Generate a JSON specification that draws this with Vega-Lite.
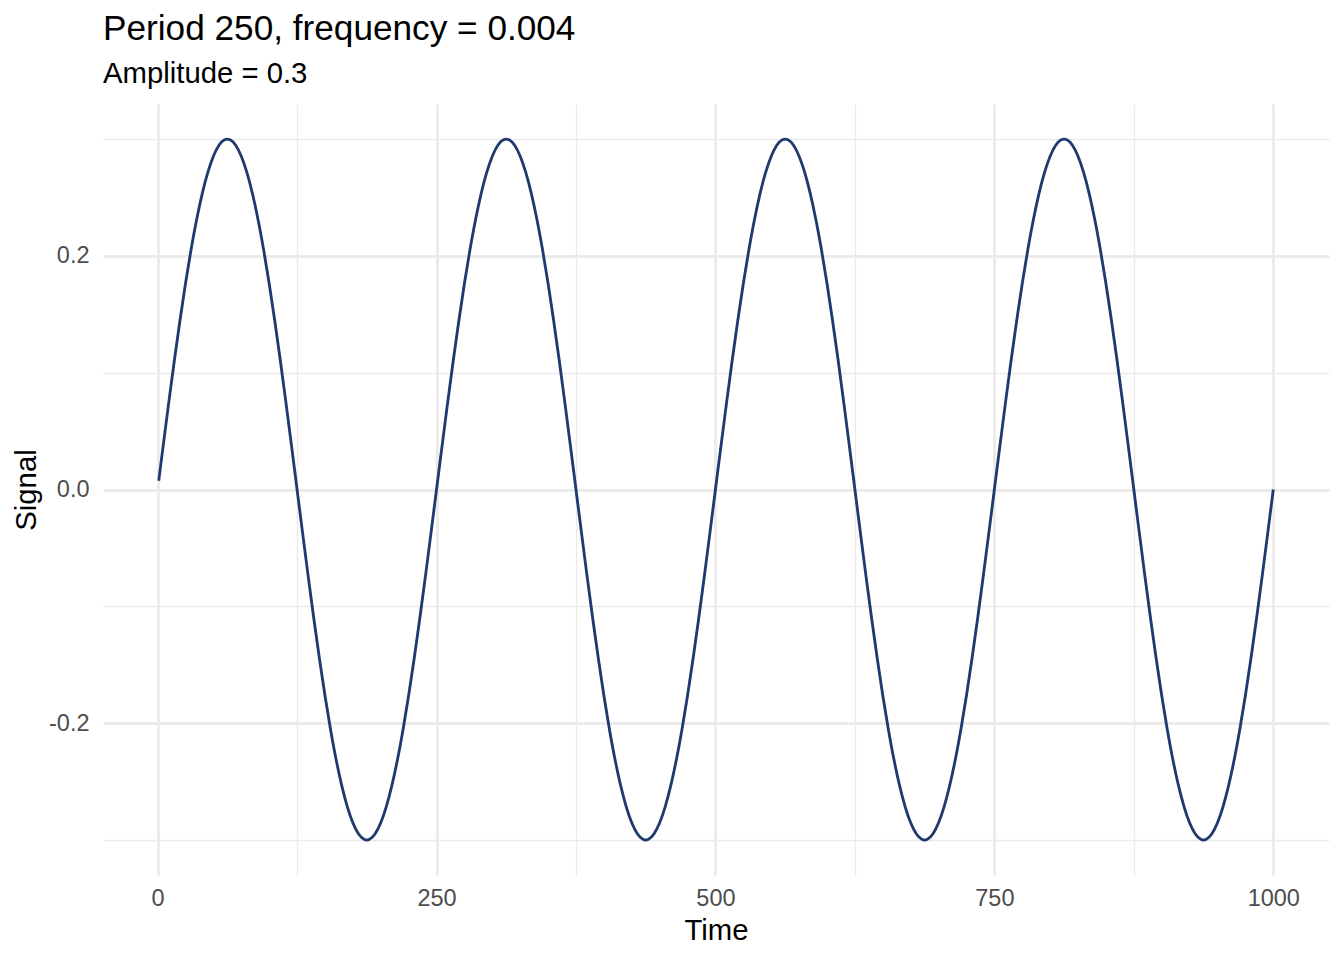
{
  "$schema": "https://vega.github.io/schema/vega-lite/v6.json",
  "width": 1226,
  "height": 771,
  "autosize": {"type": "none"},
  "padding": {"left": 103, "top": 104, "right": 15, "bottom": 85},
  "background": "white",
  "config": {"view": {"stroke": null}, "font": "Liberation Sans"},
  "title": {
    "text": "Period 250, frequency = 0.004",
    "subtitle": "Amplitude = 0.3",
    "anchor": "start",
    "frame": "group",
    "font": "Liberation Sans",
    "subtitleFont": "Liberation Sans",
    "fontSize": 35.2,
    "fontWeight": "normal",
    "color": "black",
    "subtitleFontSize": 29.3,
    "subtitleColor": "black",
    "subtitlePadding": 13,
    "offset": 15
  },
  "data": {
    "values": [
      {"t": 1, "v": 0.0075},
      {"t": 5, "v": 0.0376}, {"t": 10, "v": 0.0746}, {"t": 15, "v": 0.1104}, {"t": 20, "v": 0.1445}, {"t": 25, "v": 0.1763},
      {"t": 30, "v": 0.2054}, {"t": 35, "v": 0.2312}, {"t": 40, "v": 0.2533}, {"t": 45, "v": 0.2714}, {"t": 50, "v": 0.2853},
      {"t": 55, "v": 0.2947}, {"t": 60, "v": 0.2994}, {"t": 62.5, "v": 0.3}, {"t": 65, "v": 0.2994}, {"t": 70, "v": 0.2947}, {"t": 75, "v": 0.2853},
      {"t": 80, "v": 0.2714}, {"t": 85, "v": 0.2533}, {"t": 90, "v": 0.2312}, {"t": 95, "v": 0.2054}, {"t": 100, "v": 0.1763},
      {"t": 105, "v": 0.1445}, {"t": 110, "v": 0.1104}, {"t": 115, "v": 0.0746}, {"t": 120, "v": 0.0376}, {"t": 125, "v": 0},
      {"t": 130, "v": -0.0376}, {"t": 135, "v": -0.0746}, {"t": 140, "v": -0.1104}, {"t": 145, "v": -0.1445}, {"t": 150, "v": -0.1763},
      {"t": 155, "v": -0.2054}, {"t": 160, "v": -0.2312}, {"t": 165, "v": -0.2533}, {"t": 170, "v": -0.2714}, {"t": 175, "v": -0.2853},
      {"t": 180, "v": -0.2947}, {"t": 185, "v": -0.2994}, {"t": 187.5, "v": -0.3}, {"t": 190, "v": -0.2994}, {"t": 195, "v": -0.2947}, {"t": 200, "v": -0.2853},
      {"t": 205, "v": -0.2714}, {"t": 210, "v": -0.2533}, {"t": 215, "v": -0.2312}, {"t": 220, "v": -0.2054}, {"t": 225, "v": -0.1763},
      {"t": 230, "v": -0.1445}, {"t": 235, "v": -0.1104}, {"t": 240, "v": -0.0746}, {"t": 245, "v": -0.0376}, {"t": 250, "v": 0},

      {"t": 255, "v": 0.0376}, {"t": 260, "v": 0.0746}, {"t": 265, "v": 0.1104}, {"t": 270, "v": 0.1445}, {"t": 275, "v": 0.1763},
      {"t": 280, "v": 0.2054}, {"t": 285, "v": 0.2312}, {"t": 290, "v": 0.2533}, {"t": 295, "v": 0.2714}, {"t": 300, "v": 0.2853},
      {"t": 305, "v": 0.2947}, {"t": 310, "v": 0.2994}, {"t": 312.5, "v": 0.3}, {"t": 315, "v": 0.2994}, {"t": 320, "v": 0.2947}, {"t": 325, "v": 0.2853},
      {"t": 330, "v": 0.2714}, {"t": 335, "v": 0.2533}, {"t": 340, "v": 0.2312}, {"t": 345, "v": 0.2054}, {"t": 350, "v": 0.1763},
      {"t": 355, "v": 0.1445}, {"t": 360, "v": 0.1104}, {"t": 365, "v": 0.0746}, {"t": 370, "v": 0.0376}, {"t": 375, "v": 0},
      {"t": 380, "v": -0.0376}, {"t": 385, "v": -0.0746}, {"t": 390, "v": -0.1104}, {"t": 395, "v": -0.1445}, {"t": 400, "v": -0.1763},
      {"t": 405, "v": -0.2054}, {"t": 410, "v": -0.2312}, {"t": 415, "v": -0.2533}, {"t": 420, "v": -0.2714}, {"t": 425, "v": -0.2853},
      {"t": 430, "v": -0.2947}, {"t": 435, "v": -0.2994}, {"t": 437.5, "v": -0.3}, {"t": 440, "v": -0.2994}, {"t": 445, "v": -0.2947}, {"t": 450, "v": -0.2853},
      {"t": 455, "v": -0.2714}, {"t": 460, "v": -0.2533}, {"t": 465, "v": -0.2312}, {"t": 470, "v": -0.2054}, {"t": 475, "v": -0.1763},
      {"t": 480, "v": -0.1445}, {"t": 485, "v": -0.1104}, {"t": 490, "v": -0.0746}, {"t": 495, "v": -0.0376}, {"t": 500, "v": 0},

      {"t": 505, "v": 0.0376}, {"t": 510, "v": 0.0746}, {"t": 515, "v": 0.1104}, {"t": 520, "v": 0.1445}, {"t": 525, "v": 0.1763},
      {"t": 530, "v": 0.2054}, {"t": 535, "v": 0.2312}, {"t": 540, "v": 0.2533}, {"t": 545, "v": 0.2714}, {"t": 550, "v": 0.2853},
      {"t": 555, "v": 0.2947}, {"t": 560, "v": 0.2994}, {"t": 562.5, "v": 0.3}, {"t": 565, "v": 0.2994}, {"t": 570, "v": 0.2947}, {"t": 575, "v": 0.2853},
      {"t": 580, "v": 0.2714}, {"t": 585, "v": 0.2533}, {"t": 590, "v": 0.2312}, {"t": 595, "v": 0.2054}, {"t": 600, "v": 0.1763},
      {"t": 605, "v": 0.1445}, {"t": 610, "v": 0.1104}, {"t": 615, "v": 0.0746}, {"t": 620, "v": 0.0376}, {"t": 625, "v": 0},
      {"t": 630, "v": -0.0376}, {"t": 635, "v": -0.0746}, {"t": 640, "v": -0.1104}, {"t": 645, "v": -0.1445}, {"t": 650, "v": -0.1763},
      {"t": 655, "v": -0.2054}, {"t": 660, "v": -0.2312}, {"t": 665, "v": -0.2533}, {"t": 670, "v": -0.2714}, {"t": 675, "v": -0.2853},
      {"t": 680, "v": -0.2947}, {"t": 685, "v": -0.2994}, {"t": 687.5, "v": -0.3}, {"t": 690, "v": -0.2994}, {"t": 695, "v": -0.2947}, {"t": 700, "v": -0.2853},
      {"t": 705, "v": -0.2714}, {"t": 710, "v": -0.2533}, {"t": 715, "v": -0.2312}, {"t": 720, "v": -0.2054}, {"t": 725, "v": -0.1763},
      {"t": 730, "v": -0.1445}, {"t": 735, "v": -0.1104}, {"t": 740, "v": -0.0746}, {"t": 745, "v": -0.0376}, {"t": 750, "v": 0},

      {"t": 755, "v": 0.0376}, {"t": 760, "v": 0.0746}, {"t": 765, "v": 0.1104}, {"t": 770, "v": 0.1445}, {"t": 775, "v": 0.1763},
      {"t": 780, "v": 0.2054}, {"t": 785, "v": 0.2312}, {"t": 790, "v": 0.2533}, {"t": 795, "v": 0.2714}, {"t": 800, "v": 0.2853},
      {"t": 805, "v": 0.2947}, {"t": 810, "v": 0.2994}, {"t": 812.5, "v": 0.3}, {"t": 815, "v": 0.2994}, {"t": 820, "v": 0.2947}, {"t": 825, "v": 0.2853},
      {"t": 830, "v": 0.2714}, {"t": 835, "v": 0.2533}, {"t": 840, "v": 0.2312}, {"t": 845, "v": 0.2054}, {"t": 850, "v": 0.1763},
      {"t": 855, "v": 0.1445}, {"t": 860, "v": 0.1104}, {"t": 865, "v": 0.0746}, {"t": 870, "v": 0.0376}, {"t": 875, "v": 0},
      {"t": 880, "v": -0.0376}, {"t": 885, "v": -0.0746}, {"t": 890, "v": -0.1104}, {"t": 895, "v": -0.1445}, {"t": 900, "v": -0.1763},
      {"t": 905, "v": -0.2054}, {"t": 910, "v": -0.2312}, {"t": 915, "v": -0.2533}, {"t": 920, "v": -0.2714}, {"t": 925, "v": -0.2853},
      {"t": 930, "v": -0.2947}, {"t": 935, "v": -0.2994}, {"t": 937.5, "v": -0.3}, {"t": 940, "v": -0.2994}, {"t": 945, "v": -0.2947}, {"t": 950, "v": -0.2853},
      {"t": 955, "v": -0.2714}, {"t": 960, "v": -0.2533}, {"t": 965, "v": -0.2312}, {"t": 970, "v": -0.2054}, {"t": 975, "v": -0.1763},
      {"t": 980, "v": -0.1445}, {"t": 985, "v": -0.1104}, {"t": 990, "v": -0.0746}, {"t": 995, "v": -0.0376}, {"t": 1000, "v": 0}
    ]
  },
  "mark": {"type": "line", "color": "#1f3a6e", "strokeWidth": 2.84, "interpolate": "monotone"},
  "encoding": {
    "x": {
      "field": "t",
      "type": "quantitative",
      "title": "Time",
      "scale": {"domain": [-48.95, 1049.95], "nice": false, "zero": false},
      "axis": {
        "values": [0, 125, 250, 375, 500, 625, 750, 875, 1000],
        "format": "d",
        "labelExpr": "datum.value % 250 === 0 ? datum.label : ''",
        "domain": false,
        "ticks": false,
        "tickSize": 0,
        "labelPadding": 11,
        "labelFont": "Liberation Sans",
        "labelFontSize": 23.5,
        "labelColor": "#4d4d4d",
        "labelOverlap": false,
        "labelFlush": false,
        "labelBound": false,
        "titleFont": "Liberation Sans",
        "titleFontSize": 29.3,
        "titleFontWeight": "normal",
        "titleColor": "black",
        "titlePadding": 7,
        "grid": true,
        "gridColor": "#ebebeb",
        "gridWidth": {"condition": {"test": "datum.value % 250 === 0", "value": 2.84}, "value": 1.42}
      }
    },
    "y": {
      "field": "v",
      "type": "quantitative",
      "title": "Signal",
      "scale": {"domain": [-0.33, 0.33], "nice": false, "zero": false},
      "axis": {
        "values": [-0.3, -0.2, -0.1, 0, 0.1, 0.2, 0.3],
        "labelExpr": "abs(round(datum.value * 10)) % 2 === 0 ? replace(format(datum.value, '.1f'), '\u2212', '-') : ''",
        "domain": false,
        "ticks": false,
        "tickSize": 0,
        "labelPadding": 14,
        "labelFont": "Liberation Sans",
        "labelFontSize": 23.5,
        "labelColor": "#4d4d4d",
        "labelOverlap": false,
        "labelFlush": false,
        "labelBound": false,
        "titleFont": "Liberation Sans",
        "titleFontSize": 29.3,
        "titleFontWeight": "normal",
        "titleColor": "black",
        "titlePadding": 7,
        "grid": true,
        "gridColor": "#ebebeb",
        "gridWidth": {"condition": {"test": "abs(round(datum.value * 10)) % 2 === 0", "value": 2.84}, "value": 1.42}
      }
    }
  }
}
